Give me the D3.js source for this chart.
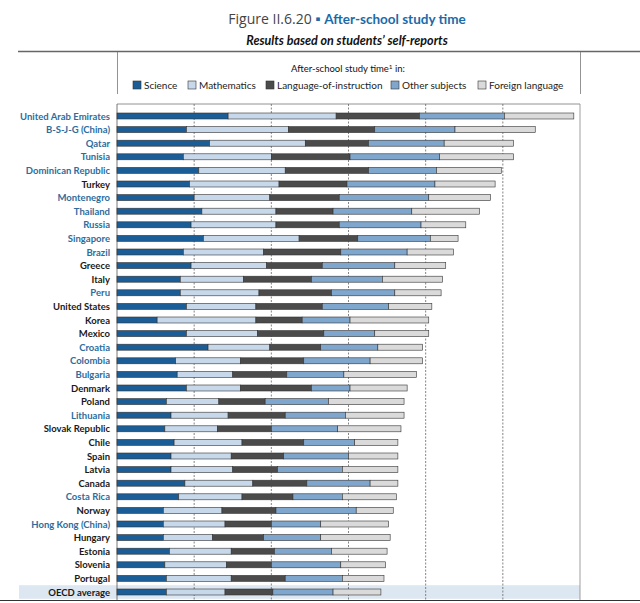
<!DOCTYPE html>
<html><head><meta charset="utf-8">
<script src="https://cdn.jsdelivr.net/npm/d3@7"></script>
<style>body{margin:0;background:#fff}svg{display:block;font-family:Lato,"Open Sans",sans-serif}</style>
</head><body><svg id="c" width="640" height="603"></svg>
<script>
const countries = ["United Arab Emirates","B-S-J-G (China)","Qatar","Tunisia","Dominican Republic","Turkey","Montenegro","Thailand","Russia","Singapore","Brazil","Greece","Italy","Peru","United States","Korea","Mexico","Croatia","Colombia","Bulgaria","Denmark","Poland","Lithuania","Slovak Republic","Chile","Spain","Latvia","Canada","Costa Rica","Norway","Hong Kong (China)","Hungary","Estonia","Slovenia","Portugal","OECD average"];
const partner = ["United Arab Emirates","B-S-J-G (China)","Qatar","Tunisia","Dominican Republic","Montenegro","Thailand","Russia","Singapore","Brazil","Peru","Croatia","Colombia","Bulgaria","Lithuania","Costa Rica","Hong Kong (China)"];
const subjects = ["Science","Mathematics","Language-of-instruction","Other subjects","Foreign language"];
// hours per week
const science   = [7.2,4.5,6.0,4.3,5.3,4.7,5.0,5.5,4.8,5.6,4.3,4.8,4.1,4.1,4.5,2.6,4.5,5.9,3.8,3.9,4.5,3.2,3.5,3.1,3.7,3.5,3.5,4.4,4.0,3.0,3.0,3.0,3.4,3.1,3.2,3.2];
const math      = [7.0,6.6,6.2,5.7,5.6,5.8,4.9,4.8,5.5,6.2,5.2,4.9,4.1,5.1,4.5,6.4,4.6,4.0,4.2,3.6,3.5,3.4,3.7,3.4,4.4,3.9,4.0,4.4,4.1,3.8,4.0,3.2,4.0,4.0,4.2,3.8];
const language  = [5.4,5.6,4.1,5.1,5.4,4.4,4.5,3.7,4.1,3.8,5.0,3.6,4.4,4.7,4.3,3.0,4.3,3.3,4.1,3.5,4.6,3.0,3.7,3.5,4.0,3.4,2.9,3.5,3.3,3.5,3.0,3.3,2.8,2.9,3.5,3.1];
const other     = [5.5,5.2,4.9,5.8,4.4,5.7,5.8,5.1,5.3,4.7,4.3,4.7,4.6,4.1,4.3,3.1,3.3,3.7,4.3,3.7,2.5,4.1,3.9,4.3,3.3,4.2,4.2,4.1,3.2,5.2,3.2,3.7,3.7,4.5,3.7,3.9];
const foreign   = [4.5,5.2,4.5,4.8,4.2,3.9,4.0,4.4,2.9,1.8,3.0,3.3,3.9,3.0,2.8,5.1,3.5,2.9,3.4,4.7,3.7,4.9,3.8,4.1,2.8,3.2,3.6,1.8,3.5,2.4,4.4,4.5,3.6,2.9,2.7,3.1];
const xTicks = [0,5,10,15,20,25,30];
const colors = ["#1b5d96","#c7d8ea","#4b4b4b","#7fa6cc","#dadada"];

const rows = countries.map((c,i)=>({country:c,"Science":science[i],"Mathematics":math[i],"Language-of-instruction":language[i],"Other subjects":other[i],"Foreign language":foreign[i]}));
const svg = d3.select("#c");
const L=117, R=580, T=104, B=600;
const x = d3.scaleLinear().domain([0,30]).range([L,R]);
const y = d3.scaleBand().domain(countries).range([109.2,598.8]);
const col = d3.scaleOrdinal().domain(subjects).range(colors);

// title
const t = svg.append("text").attr("x",347).attr("y",24).attr("text-anchor","middle").style("font-size","13.5px");
t.append("tspan").text("Figure II.6.20 ").attr("fill","#444").style("font-family","'Liberation Sans Narrow','Open Sans',sans-serif").style("font-size","14px");
t.append("tspan").text("\u25AA ").attr("fill","#1c6aa8");
t.append("tspan").text("After-school study time").attr("fill","#1c6aa8").style("font-weight","bold");
svg.append("text").attr("x",347).attr("y",45).attr("text-anchor","middle").style("font-size","12.5px").style("font-weight","bold").style("font-style","italic").attr("fill","#111").text("Results based on students\u2019 self-reports");

// header lines
svg.append("line").attr("x1",18).attr("x2",640).attr("y1",51.5).attr("y2",51.5).attr("stroke","#666").attr("stroke-width",1.3);
[L,R].forEach(v=>svg.append("line").attr("x1",v+0.5).attr("x2",v+0.5).attr("y1",52).attr("y2",94).attr("stroke","#777").attr("stroke-width",0.8));

// legend
const lt = svg.append("text").attr("x",348).attr("y",72).attr("text-anchor","middle").style("font-size","9.5px").attr("fill","#111");
lt.append("tspan").text("After-school study time");
lt.append("tspan").text("1").attr("dy",-3).style("font-size","6.5px");
lt.append("tspan").text(" in:").attr("dy",3);
const legX = [133,188,266,391,478];
const lg = svg.append("g").selectAll("g").data(subjects).join("g").attr("transform",(d,i)=>`translate(${legX[i]},81)`);
lg.append("rect").attr("width",8).attr("height",8).attr("fill",d=>col(d)).attr("stroke","#333").attr("stroke-width",0.6);
lg.append("text").attr("x",11).attr("y",7.8).style("font-size","10px").attr("fill","#222").text(d=>d);

// OECD highlight
svg.append("rect").attr("x",19).attr("y",y("OECD average")).attr("width",R-19).attr("height",y.bandwidth()).attr("fill","#dce7f2");

// frame
svg.append("line").attr("x1",L).attr("x2",R).attr("y1",T).attr("y2",T).attr("stroke","#777").attr("stroke-width",0.8);
svg.append("line").attr("x1",R).attr("x2",R).attr("y1",T).attr("y2",B).attr("stroke","#888").attr("stroke-width",0.8);
svg.append("line").attr("x1",L).attr("x2",L).attr("y1",T).attr("y2",B).attr("stroke","#555").attr("stroke-width",0.8);
// grid
svg.append("g").selectAll("line").data(xTicks.filter(v=>v>0&&v<30)).join("line")
  .attr("x1",d=>x(d)).attr("x2",d=>x(d)).attr("y1",T).attr("y2",B)
  .attr("stroke","#666").attr("stroke-width",0.8).attr("stroke-dasharray","2,1.5");

// bars
const stack = d3.stack().keys(subjects)(rows);
const bh = 6;
svg.append("g").selectAll("g").data(stack).join("g").attr("fill",d=>col(d.key))
 .selectAll("rect").data(d=>d).join("rect")
 .attr("x",d=>x(d[0])).attr("width",d=>x(d[1])-x(d[0]))
 .attr("y",d=>y(d.data.country)+y.bandwidth()/2-bh/2).attr("height",bh)
 .attr("stroke","#333").attr("stroke-width",0.6);

// labels
svg.append("g").selectAll("text").data(countries).join("text")
 .attr("x",110).attr("y",d=>y(d)+y.bandwidth()/2+3.5).attr("text-anchor","end")
 .style("font-size","9.5px").style("font-weight","bold")
 .attr("fill",d=>partner.includes(d)?"#2c6d9e":"#1a1a1a").text(d=>d);

// bottom line
svg.append("line").attr("x1",0).attr("x2",640).attr("y1",B+0.5).attr("y2",B+0.5).attr("stroke","#333").attr("stroke-width",1.2);
</script></body></html>
